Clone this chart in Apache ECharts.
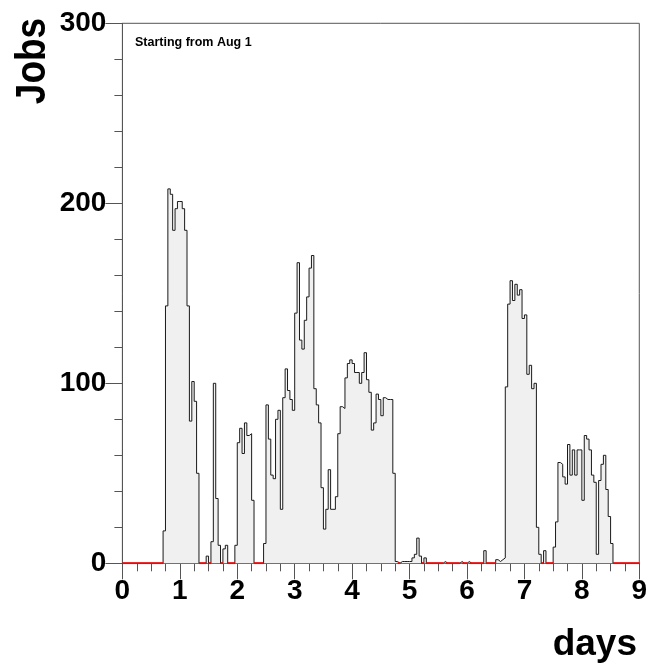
<!DOCTYPE html>
<html>
<head>
<meta charset="utf-8">
<script src="https://cdn.jsdelivr.net/npm/echarts@6/dist/echarts.min.js"></script>
<style>
html,body{margin:0;padding:0;background:#fff;}
#chart{width:652px;height:669px;}
</style>
</head>
<body>
<div id="chart"></div>
<script>
// Hourly job counts (24 bins per day), starting from Aug 1
const day0 = [0,0,0,0,0,0,0,0,0,0,0,0,0,0,0,0,0,18,143,208,205,185,197,201];
const day1 = [201,197,185,143,79,101,90,50,0,0,0,4,0,12,100,36,10,0,8,10,0,0,0,10];
const day2 = [67,75,61,78,71,72,35,0,0,0,0,11,88,69,49,47,80,85,30,92,108,96,91,85];
const day3 = [139,167,124,119,135,148,164,171,97,88,78,42,19,30,52,30,30,37,72,87,86,103,111,113];
const day4 = [111,106,106,100,106,117,102,95,74,78,94,91,82,92,91,91,91,50,1,0,1,1,1,1];
const day5 = [1,3,5,14,4,0,3,0,0,0,0,0,0,0,1,0,0,0,0,0,0,1,0,0];
const day6 = [1,0,0,0,0,0,0,7,0,0,0,0,2,1,2,3,98,144,157,146,155,149,152,136];
const day7 = [138,105,110,97,100,20,5,0,7,0,0,0,9,23,56,55,48,44,66,49,63,49,63,63];
const day8 = [35,71,69,63,49,45,5,46,55,60,41,26,11,0,0,0,0,0,0,0,0,0,0,0];

const binsPerDay = 24;
const xTickLabels = ['0','1','2','3','4','5','6','7','8','9'];
const yTickLabels = ['0','100','200','300'];

const jobs = [].concat(day0, day1, day2, day3, day4, day5, day6, day7, day8);
const nBins = jobs.length;

// histogram step outline: point at each bin's left edge, step 'end'
const histData = jobs.map((v, i) => [i / binsPerDay, v]);
histData.push([nBins / binsPerDay, jobs[nBins - 1]]);

// red baseline drawn only over empty bins
const zeroData = [];
let i = 0;
while (i < nBins) {
  if (jobs[i] === 0) {
    let j = i;
    while (j + 1 < nBins && jobs[j + 1] === 0) j++;
    zeroData.push([i / binsPerDay, 0]);
    zeroData.push([(j + 1) / binsPerDay, 0]);
    zeroData.push([(j + 1) / binsPerDay, '-']);
    i = j + 1;
  } else i++;
}

const chart = echarts.init(document.getElementById('chart'), null, {renderer: 'canvas'});
const labelFont = {fontFamily: 'Liberation Sans, Arial, sans-serif', fontWeight: 'bold', fontSize: 28, color: '#000'};

chart.setOption({
  animation: false,
  backgroundColor: '#fff',
  grid: {left: 122.4, right: 12.7, top: 23.3, bottom: 105.7, show: true, borderColor: '#555', borderWidth: 1, backgroundColor: 'transparent'},
  xAxis: {
    type: 'value', min: 0, max: 9, interval: 1,
    axisLine: {show: true, lineStyle: {color: '#555', width: 1}},
    axisTick: {show: true, inside: false, length: 16, lineStyle: {color: '#555'}},
    minorTick: {show: true, splitNumber: 4, length: 8, lineStyle: {color: '#555'}},
    splitLine: {show: false}, minorSplitLine: {show: false},
    axisLabel: Object.assign({margin: 14, formatter: v => xTickLabels[Math.round(v)]}, labelFont)
  },
  yAxis: {
    type: 'value', min: 0, max: 300, interval: 100,
    axisLine: {show: true, lineStyle: {color: '#555', width: 1}},
    axisTick: {show: true, inside: false, length: 17, lineStyle: {color: '#555'}},
    minorTick: {show: true, splitNumber: 5, length: 8, lineStyle: {color: '#555'}},
    splitLine: {show: false}, minorSplitLine: {show: false},
    axisLabel: Object.assign({margin: 16, formatter: v => yTickLabels[Math.round(v / 100)]}, labelFont)
  },
  series: [
    {
      type: 'line', step: 'end', data: histData, showSymbol: false, z: 3,
      lineStyle: {color: '#1a1a1a', width: 1},
      areaStyle: {color: '#f0f0f0', opacity: 1},
      silent: true
    },
    {
      type: 'line', data: zeroData, showSymbol: false, connectNulls: false, z: 4,
      lineStyle: {color: '#ff0000', width: 2},
      silent: true
    }
  ],
  graphic: [
    {type: 'text', left: 135, top: 36, z: 10,
     style: {text: 'Starting from Aug 1', fontFamily: 'Liberation Sans, Arial, sans-serif', fontWeight: 'bold', fontSize: 12.5, fill: '#000'}},
    {type: 'text', x: 33, y: 61, rotation: Math.PI / 2, scaleY: 1.15, z: 10,
     style: {text: 'Jobs', fontFamily: 'Liberation Sans, Arial, sans-serif', fontWeight: 'bold', fontSize: 37, fill: '#000', align: 'center', verticalAlign: 'middle'}},
    {type: 'text', x: 637, y: 645, z: 10,
     style: {text: 'days', fontFamily: 'Liberation Sans, Arial, sans-serif', fontWeight: 'bold', fontSize: 37, fill: '#000', align: 'right', verticalAlign: 'middle'}}
  ]
});
</script>
</body>
</html>
